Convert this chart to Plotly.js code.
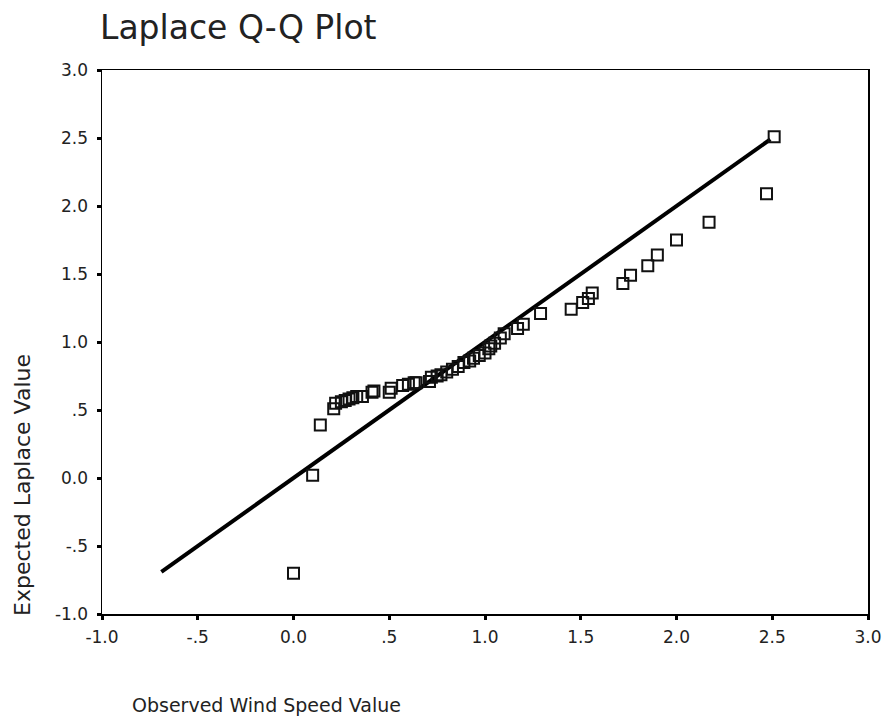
<!DOCTYPE html>
<html>
<head>
<meta charset="utf-8">
<script src="https://cdn.plot.ly/plotly-3.0.1.min.js"></script>
<style>html,body{margin:0;padding:0;background:#fff;}#chart{width:883px;height:719px;}</style>
</head>
<body>
<div id="chart"></div>
<script>
// Observed wind speed values (x) and expected Laplace values (y)
const observed = [0.00, 0.10, 0.14, 0.21, 0.22, 0.25, 0.27, 0.29, 0.31, 0.33, 0.36, 0.41, 0.42,
  0.50, 0.51, 0.57, 0.60, 0.63, 0.64, 0.71, 0.72, 0.75, 0.77, 0.80, 0.83, 0.86, 0.89, 0.92, 0.94,
  0.97, 1.00, 1.02, 1.03, 1.05, 1.08, 1.10, 1.17, 1.20, 1.29, 1.45, 1.51, 1.54, 1.56, 1.72, 1.76,
  1.85, 1.90, 2.00, 2.17, 2.47, 2.51];
const expected = [-0.70, 0.02, 0.39, 0.51, 0.55, 0.56, 0.57, 0.58, 0.59, 0.60, 0.60, 0.63, 0.64,
  0.63, 0.66, 0.68, 0.69, 0.70, 0.70, 0.71, 0.74, 0.75, 0.76, 0.78, 0.80, 0.82, 0.85, 0.86, 0.88,
  0.90, 0.92, 0.95, 0.97, 0.99, 1.03, 1.06, 1.10, 1.13, 1.21, 1.24, 1.29, 1.32, 1.36, 1.43, 1.49,
  1.56, 1.64, 1.75, 1.88, 2.09, 2.51];
// Reference line y = x
const refLine = [-0.69, 2.49];

const tickVals = [-1.0, -0.5, 0.0, 0.5, 1.0, 1.5, 2.0, 2.5, 3.0];
const tickText = ["-1.0", "-.5", "0.0", ".5", "1.0", "1.5", "2.0", "2.5", "3.0"];

const font = "DejaVu Sans, Verdana, sans-serif";

const traces = [
  {
    x: refLine, y: refLine, type: "scatter", mode: "lines",
    line: {color: "#000", width: 4}, hoverinfo: "skip", showlegend: false
  },
  {
    x: observed, y: expected, type: "scatter", mode: "markers",
    marker: {symbol: "square-open", size: 11, color: "#111", line: {width: 2, color: "#111"}},
    showlegend: false
  }
];

const axisCommon = {
  range: [-1.0, 3.0], tickvals: tickVals, ticktext: tickText,
  showgrid: false, zeroline: false, showline: true, linecolor: "#000", linewidth: 1.5,
  mirror: true, ticks: "outside", ticklen: 4, tickwidth: 3, tickcolor: "#000",
  tickfont: {family: font, size: 17, color: "#222"}
};

const layout = {
  width: 883, height: 719,
  margin: {l: 102, r: 15, t: 70, b: 105},
  paper_bgcolor: "#fff", plot_bgcolor: "#fff",
  title: {text: "Laplace Q-Q Plot", x: 100/883, xanchor: "left", y: 1 - 27/719, yanchor: "middle",
    font: {family: font, size: 33, color: "#222"}},
  xaxis: Object.assign({}, axisCommon, {ticklabelstandoff: 3}),
  yaxis: Object.assign({}, axisCommon, {ticklabelstandoff: 5}),
  annotations: [
    {text: "Expected Laplace Value", xref: "paper", yref: "paper",
      x: -80/766, y: (614-485)/544, xanchor: "center", yanchor: "middle", textangle: -90,
      showarrow: false, font: {family: font, size: 22, color: "#222"}},
    {text: "Observed Wind Speed Value", xref: "paper", yref: "paper",
      x: 28/766, y: -(705-614)/544, xanchor: "left", yanchor: "middle",
      showarrow: false, font: {family: font, size: 19, color: "#222"}}
  ]
};

Plotly.newPlot("chart", traces, layout, {displayModeBar: false, staticPlot: true});
</script>
</body>
</html>
